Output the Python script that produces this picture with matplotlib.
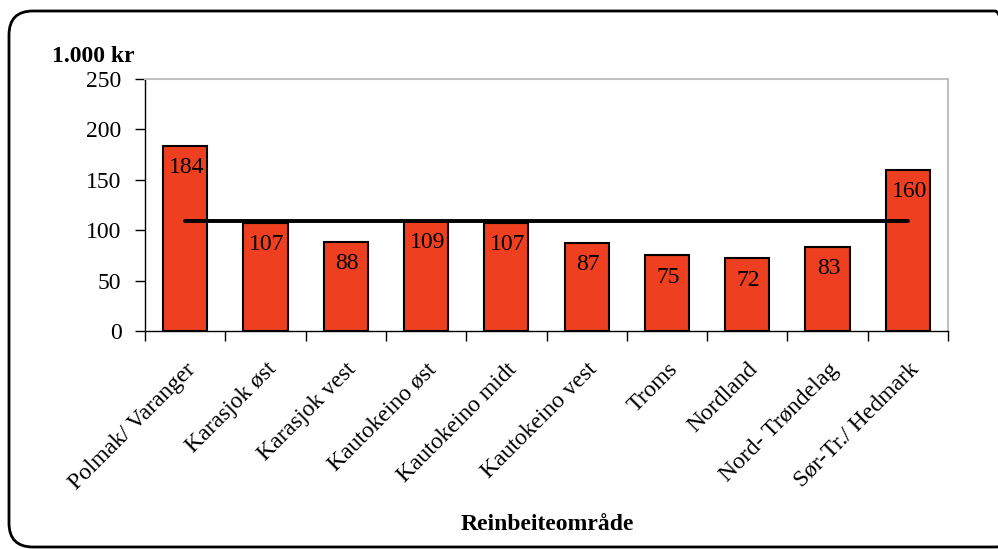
import numpy as np
import matplotlib.pyplot as plt
import matplotlib.patches as mpatches

# ----------- Data -----------
omrader = ["Polmak/ Varanger", "Karasjok øst", "Karasjok vest", "Kautokeino øst",
           "Kautokeino midt", "Kautokeino vest", "Troms", "Nordland",
           "Nord- Trøndelag", "Sør-Tr./ Hedmark"]
verdier = [184, 107, 88, 109, 107, 87, 75, 72, 83, 160]
snitt = 109

bar_color = "#EE4020"
plt.rcParams['font.family'] = ['Liberation Serif', 'DejaVu Serif']

fig = plt.figure(figsize=(9.98, 5.49), dpi=100)
ax = fig.add_axes([0.1453, 0.397, 0.8046, 0.459])

x = np.arange(len(verdier))
ax.bar(x, verdier, width=0.55, color=bar_color, edgecolor="black", linewidth=1.5, zorder=2)

# value labels inside the bars
for xi, v in zip(x, verdier):
    ax.annotate(str(v), (xi, v), xytext=(1, -8), textcoords="offset points",
                ha="center", va="top", fontsize=17, zorder=4)

# average line
ax.plot([x[0], x[-1]], [snitt, snitt], color="black", lw=2.8,
        solid_capstyle="round", zorder=3)

ax.set_xlim(-0.5, len(verdier) - 0.5)
ax.set_ylim(0, 250)
ax.set_yticks(np.arange(0, 251, 50))
ax.tick_params(axis="y", labelsize=17, direction="out", length=7, width=1, pad=10)

ax.set_xticks(x)
ax.set_xticklabels(omrader, rotation=45, ha="right", rotation_mode="anchor", fontsize=17)
ax.set_xticks(np.arange(-0.5, len(verdier), 1), minor=True)
ax.tick_params(axis="x", which="major", length=0, pad=20)
ax.tick_params(axis="x", which="minor", length=7, width=1, direction="out")

for side in ["top", "right"]:
    ax.spines[side].set_color("#C0C0C0")
    ax.spines[side].set_linewidth(1.5)
for side in ["left", "bottom"]:
    ax.spines[side].set_color("black")
    ax.spines[side].set_linewidth(1)

fig.text(52 / 998, 1 - 57 / 549, "1.000 kr", fontsize=17, fontweight="bold", va="center")
fig.text(0.548, 1 - 525 / 549, "Reinbeiteområde", fontsize=17, fontweight="bold",
         ha="center", va="center")

# rounded frame around the chart
frame = mpatches.FancyBboxPatch((9, 2), 1010, 536, boxstyle="round,pad=0,rounding_size=24",
                                transform=None, fill=False, edgecolor="black", linewidth=2)
fig.patches.append(frame)

fig.savefig("out.png", dpi=100)
